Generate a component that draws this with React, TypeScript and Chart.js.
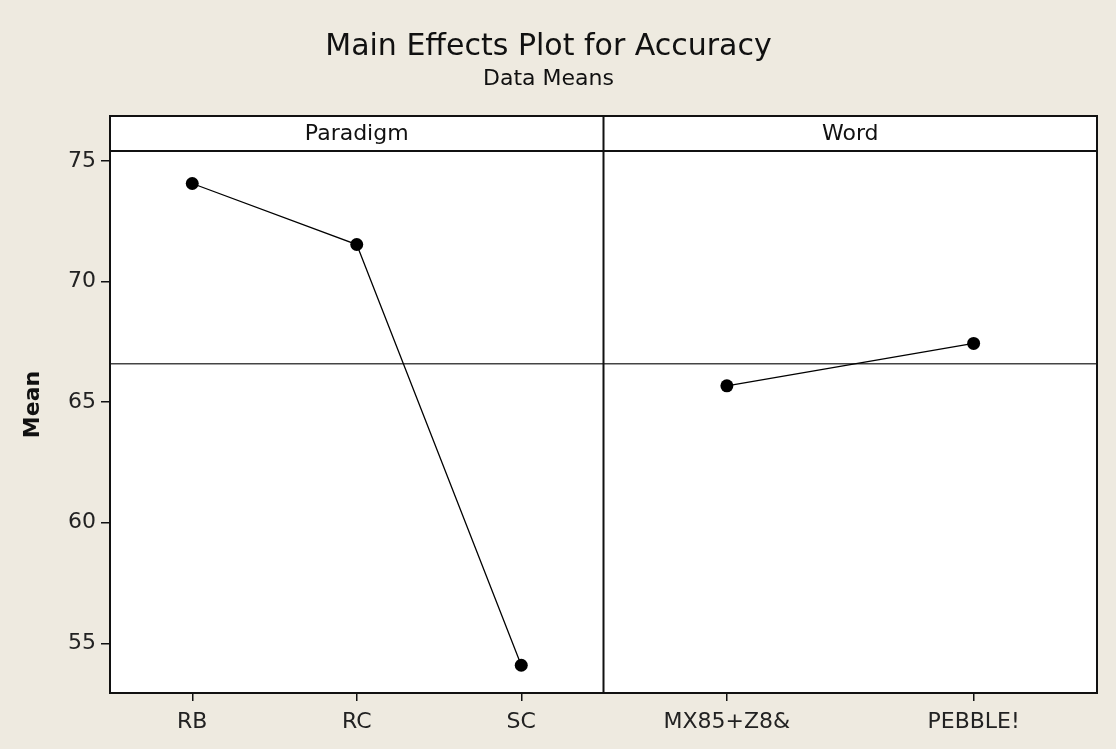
import React, { useEffect, useRef } from 'react';
import { Chart, registerables } from 'chart.js';

Chart.register(...registerables);

const chartTitle = 'Main Effects Plot for Accuracy';
const chartSubtitle = 'Data Means';
const yAxisTitle = 'Mean';

const factorNames = ['Paradigm', 'Word'];
const paradigmLevels = ['RB', 'RC', 'SC'];
const paradigmMeans = [74.07, 71.54, 54.09];
const wordLevels = ['MX85+Z8&', 'PEBBLE!'];
const wordMeans = [65.68, 67.44];
const grandMean = 66.6;

const yTicks = [55, 60, 65, 70, 75];
const yMin = 52.94;
const yMax = 76.87;

const FONT = 'DejaVu Sans';
const BG = '#EEEAE0';
const PANEL_UNITS = 3;
const HEADER_PX = 35;

const factorLevels = [paradigmLevels, wordLevels];
const factorMeans = [paradigmMeans, wordMeans];

function levelX(panel: number, i: number, n: number) {
  return panel * PANEL_UNITS + (PANEL_UNITS * (i + 0.5)) / n;
}

const xTickValues: number[] = [];
const xTickLabels: string[] = [];
factorLevels.forEach((levels, p) => {
  levels.forEach((lab, i) => {
    xTickValues.push(levelX(p, i, levels.length));
    xTickLabels.push(lab);
  });
});

const panelPlugin = {
  id: 'panelPlugin',
  beforeDraw(chart: any) {
    const { ctx, chartArea: a } = chart;
    ctx.save();
    ctx.fillStyle = BG;
    ctx.fillRect(0, 0, chart.width, chart.height);
    ctx.fillStyle = '#FFFFFF';
    ctx.fillRect(a.left, a.top, a.right - a.left, a.bottom - a.top);
    ctx.restore();
  },
  beforeDatasetsDraw(chart: any) {
    const { ctx, chartArea: a, scales } = chart;
    const y = scales.y.getPixelForValue(grandMean);
    ctx.save();
    ctx.strokeStyle = '#444';
    ctx.lineWidth = 1.5;
    ctx.beginPath();
    ctx.moveTo(a.left, y);
    ctx.lineTo(a.right, y);
    ctx.stroke();
    ctx.restore();
  },
  afterDatasetsDraw(chart: any) {
    const { ctx, chartArea: a, scales } = chart;
    ctx.save();
    ctx.fillStyle = '#FFFFFF';
    ctx.fillRect(a.left, a.top, a.right - a.left, HEADER_PX);
    ctx.strokeStyle = '#111';
    ctx.lineWidth = 2;
    ctx.strokeRect(a.left, a.top, a.right - a.left, a.bottom - a.top);
    ctx.beginPath();
    ctx.moveTo(a.left, a.top + HEADER_PX);
    ctx.lineTo(a.right, a.top + HEADER_PX);
    for (let p = 1; p < factorNames.length; p++) {
      const x = scales.x.getPixelForValue(p * PANEL_UNITS);
      ctx.moveTo(x, a.top);
      ctx.lineTo(x, a.bottom);
    }
    ctx.stroke();
    ctx.fillStyle = '#111';
    ctx.font = `22px "${FONT}"`;
    ctx.textAlign = 'center';
    ctx.textBaseline = 'middle';
    factorNames.forEach((name, p) => {
      const x = scales.x.getPixelForValue(p * PANEL_UNITS + PANEL_UNITS / 2);
      ctx.fillText(name, x, a.top + HEADER_PX / 2 + 1);
    });
    ctx.restore();
  },
};

export default function App() {
  const canvasRef = useRef<HTMLCanvasElement | null>(null);

  useEffect(() => {
    document.body.style.margin = '0';
    const canvas = canvasRef.current;
    if (!canvas) return;

    const datasets = factorNames.map((name, p) => ({
      label: name,
      data: factorMeans[p].map((v, i) => ({ x: levelX(p, i, factorLevels[p].length), y: v })),
      showLine: true,
      borderColor: '#000',
      borderWidth: 1.3,
      backgroundColor: '#000',
      pointBackgroundColor: '#000',
      pointBorderWidth: 0,
      pointRadius: 6.5,
      tension: 0,
    }));

    const chart = new Chart(canvas, {
      type: 'scatter',
      data: { datasets },
      plugins: [panelPlugin],
      options: {
        animation: false,
        responsive: true,
        maintainAspectRatio: false,
        layout: { padding: { left: 0, right: 19, top: 0, bottom: 0 } },
        plugins: {
          legend: { display: false },
          tooltip: { enabled: false },
          title: {
            display: true,
            text: chartTitle,
            color: '#111',
            font: { family: FONT, size: 30, weight: 'normal' },
            padding: { top: 29, bottom: 0 },
          },
          subtitle: {
            display: true,
            text: chartSubtitle,
            color: '#111',
            font: { family: FONT, size: 22, weight: 'normal' },
            padding: { top: 1, bottom: 23.6 },
          },
        },
        scales: {
          x: {
            type: 'linear',
            min: 0,
            max: PANEL_UNITS * factorNames.length,
            afterBuildTicks: (scale: any) => {
              scale.ticks = xTickValues.map((v) => ({ value: v }));
            },
            afterFit: (scale: any) => {
              scale.height = 56;
            },
            ticks: {
              autoSkip: false,
              maxRotation: 0,
              color: '#222',
              padding: 8,
              font: { family: FONT, size: 22 },
              callback: (_v: any, i: number) => xTickLabels[i],
            },
            grid: { drawOnChartArea: false, drawTicks: true, tickLength: 8, color: '#111', lineWidth: 1.5 },
            border: { display: false },
          },
          y: {
            type: 'linear',
            min: yMin,
            max: yMax,
            afterBuildTicks: (scale: any) => {
              scale.ticks = yTicks.map((v) => ({ value: v }));
            },
            afterFit: (scale: any) => {
              scale.width = 110;
            },
            ticks: {
              color: '#222',
              padding: 5,
              font: { family: FONT, size: 22 },
              callback: (v: any) => String(v),
            },
            grid: { drawOnChartArea: false, drawTicks: true, tickLength: 9, color: '#111', lineWidth: 1.5 },
            border: { display: false },
            title: {
              display: true,
              text: yAxisTitle,
              color: '#111',
              font: { family: FONT, size: 22, weight: 'bold' },
              padding: { top: 20, bottom: 0 },
            },
          },
        },
      },
    });
    return () => chart.destroy();
  }, []);

  return (
    <div style={{ position: 'relative', width: 1116, height: 749 }}>
      <canvas ref={canvasRef} />
    </div>
  );
}
